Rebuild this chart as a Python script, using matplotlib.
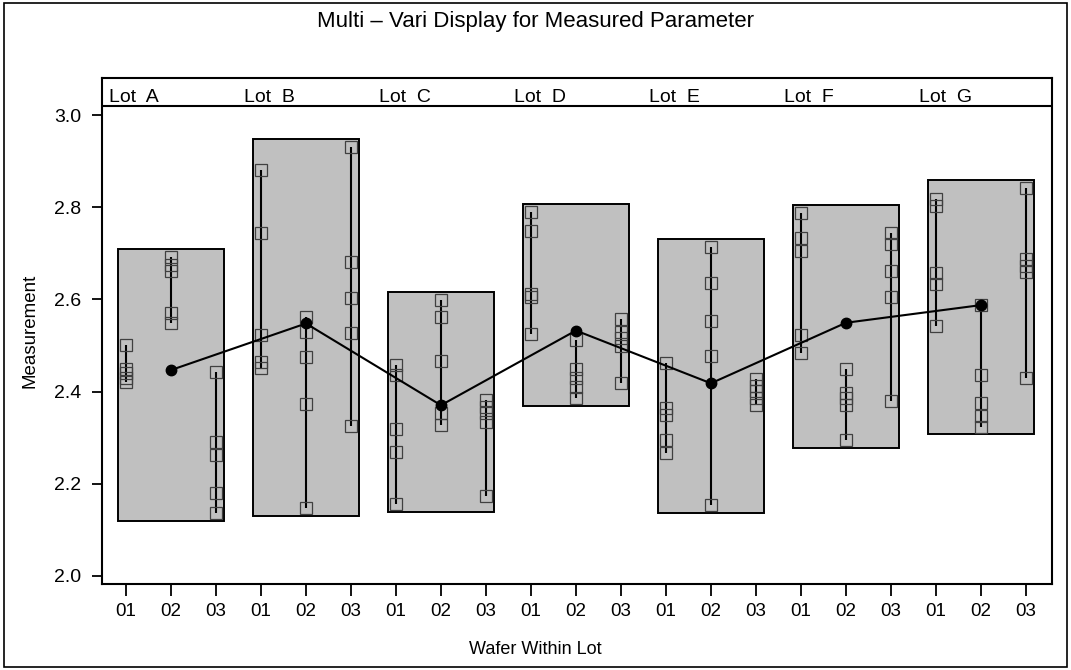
"""
Multi-Vari display: 7 lots x 3 wafers x 5 measurements.
Box = lot range, vertical line = wafer range, dot = lot mean.
"""

import numpy as np
import matplotlib
matplotlib.use("Agg")
import matplotlib.pyplot as plt
from matplotlib.patches import Rectangle

plt.rcParams["font.family"] = ["Liberation Sans", "DejaVu Sans"]

LOTS = ["Lot  A", "Lot  B", "Lot  C", "Lot  D", "Lot  E", "Lot  F", "Lot  G"]
WAFERS = ["01", "02", "03"]

lot_a = [[2.500, 2.450, 2.440, 2.430, 2.420],
         [2.693, 2.675, 2.662, 2.570, 2.548],
         [2.443, 2.291, 2.263, 2.179, 2.136]]
lot_b = [[2.881, 2.743, 2.523, 2.465, 2.451],
         [2.561, 2.529, 2.474, 2.373, 2.147],
         [2.931, 2.682, 2.602, 2.528, 2.326]]
lot_c = [[2.458, 2.436, 2.319, 2.268, 2.156],
         [2.599, 2.561, 2.466, 2.353, 2.328],
         [2.382, 2.367, 2.353, 2.335, 2.174]]
lot_d = [[2.790, 2.748, 2.611, 2.605, 2.525],
         [2.512, 2.450, 2.429, 2.411, 2.385],
         [2.557, 2.530, 2.516, 2.498, 2.419]]
lot_e = [[2.463, 2.364, 2.349, 2.295, 2.266],
         [2.713, 2.636, 2.553, 2.477, 2.154],
         [2.428, 2.413, 2.402, 2.385, 2.371]]
lot_f = [[2.788, 2.733, 2.704, 2.523, 2.483],
         [2.448, 2.396, 2.387, 2.371, 2.295],
         [2.743, 2.720, 2.662, 2.606, 2.380]]
lot_g = [[2.817, 2.803, 2.658, 2.633, 2.542],
         [2.588, 2.436, 2.376, 2.346, 2.324],
         [2.842, 2.688, 2.672, 2.660, 2.429]]

ALL_LOTS = [lot_a, lot_b, lot_c, lot_d, lot_e, lot_f, lot_g]

fig = plt.figure(figsize=(10.71, 6.70), dpi=100)
ax = fig.add_axes([0.0952, 0.1284, 0.8871, 0.7552])

BAND_LINE = 3.0195
X_PAD, Y_PAD = 0.18, 0.017

mean_x, mean_y = [], []
for i, lot in enumerate(ALL_LOTS):
    x0 = 3 * i + 1
    vals = np.concatenate(lot)
    lo, hi = vals.min(), vals.max()
    ax.add_patch(Rectangle((x0 - X_PAD, lo - Y_PAD), 2 + 2 * X_PAD,
                           hi - lo + 2 * Y_PAD, fc="#c0c0c0", ec="black",
                           lw=1.4, zorder=1))
    for j, w in enumerate(lot):
        x = x0 + j
        ax.vlines(x, min(w), max(w), color="black", lw=1.5, zorder=2)
        ax.plot([x] * len(w), w, "s", ms=9, mfc="none", mec="#404040",
                mew=0.9, zorder=3)
    mean_x.append(x0 + 1)
    mean_y.append(vals.mean())

ax.plot(mean_x, mean_y, "-o", color="black", lw=1.5, ms=7.5, zorder=4)

# lot band on top
ax.axhline(BAND_LINE, color="black", lw=1.5)
for i, name in enumerate(LOTS):
    ax.text(3 * i + 1 - 0.38, 3.039, name, ha="left", va="center",
            fontsize=14)

ax.set_xlim(0.467, 21.58)
ax.set_ylim(1.9826, 3.0803)
ax.set_xticks(np.arange(1, 22))
ax.set_xticklabels(WAFERS * len(LOTS), fontsize=13.5)
ax.set_yticks(np.arange(2.0, 3.01, 0.2))
ax.set_yticklabels([f"{v:.1f}" for v in np.arange(2.0, 3.01, 0.2)],
                   fontsize=14)
ax.tick_params(axis="x", length=8.5, width=1.3, pad=5)
ax.tick_params(axis="y", length=7, width=1.3, pad=8)
for s in ax.spines.values():
    s.set_linewidth(1.5)

fig.text(0.5, 1 - 22 / 670, "Multi \u2013 Vari Display for Measured Parameter",
         ha="center", va="center", fontsize=16)
fig.text(0.5, 1 - 650 / 670, "Wafer Within Lot", ha="center", va="center",
         fontsize=13)
fig.text(30 / 1071, 1 - 331 / 670, "Measurement", ha="center", va="center",
         rotation=90, fontsize=13.5)

# outer frame
fig.patches.append(Rectangle((0.004, 0.004), 0.992, 0.992,
                             transform=fig.transFigure, fill=False,
                             ec="black", lw=1.2))

fig.savefig("out.png", dpi=100)
